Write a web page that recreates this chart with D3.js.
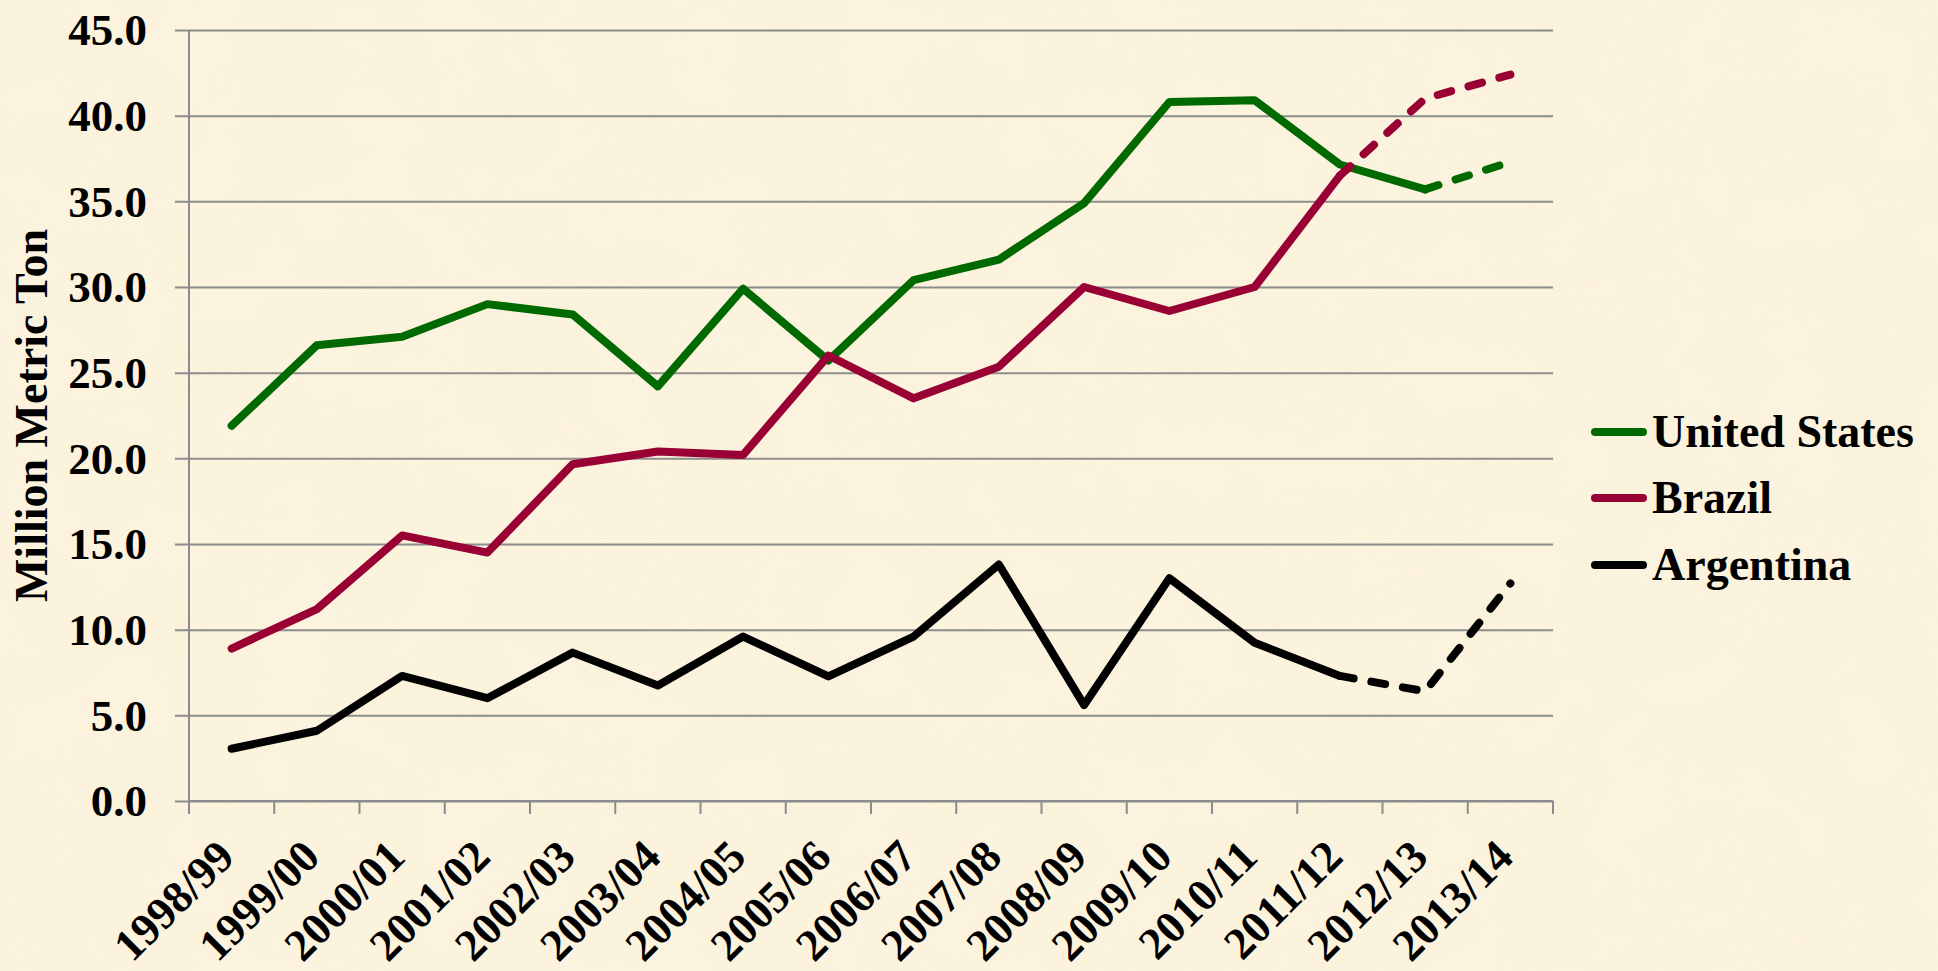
<!DOCTYPE html>
<html>
<head>
<meta charset="utf-8">
<script src="https://cdn.jsdelivr.net/npm/d3@7"></script>
<style>
  html, body { margin: 0; padding: 0; background: #FCF2DC; }
  svg { display: block; }
</style>
</head>
<body>
<script>
const categories = ["1998/99","1999/00","2000/01","2001/02","2002/03","2003/04","2004/05","2005/06","2006/07","2007/08","2008/09","2009/10","2010/11","2011/12","2012/13","2013/14"];
const unitedStates = [21.9, 26.6, 27.1, 29.0, 28.4, 24.2, 29.9, 25.7, 30.4, 31.6, 34.9, 40.8, 40.9, 37.15, 35.7, 37.3];
const brazil       = [8.9, 11.2, 15.5, 14.5, 19.65, 20.4, 20.2, 26.0, 23.5, 25.35, 30.0, 28.6, 30.0, 36.5, 41.0, 42.4];
const argentina    = [3.05, 4.1, 7.3, 6.0, 8.66, 6.74, 9.6, 7.27, 9.6, 13.8, 5.6, 13.0, 9.24, 7.3, 6.4, 12.7];
// index from which each series is drawn dashed (projection)
const dashFrom = { "United States": 14, "Brazil": 13, "Argentina": 13 };
const yTicks = [0, 5, 10, 15, 20, 25, 30, 35, 40, 45];
const seriesNames = ["United States", "Brazil", "Argentina"];
const seriesColors = ["#006900", "#990033", "#000000"];
const yTitle = "Million Metric Ton";

(function () {
const W = 1938, H = 971;
const mLeft = 189, mRight = 1553, mTop = 30, mBottom = 801;

const svg = d3.select("body").append("svg").attr("width", W).attr("height", H);

// parchment background
const defs = svg.append("defs");
const f = defs.append("filter").attr("id", "parch").attr("x", 0).attr("y", 0).attr("width", "100%").attr("height", "100%");
f.append("feTurbulence").attr("type", "fractalNoise").attr("baseFrequency", "0.012").attr("numOctaves", 3).attr("seed", 4).attr("result", "n");
f.append("feColorMatrix").attr("in", "n").attr("type", "matrix")
  .attr("values", "0 0 0 0 0.93  0 0 0 0 0.86  0 0 0 0 0.62  1.2 0 0 0 -0.45");
svg.append("rect").attr("width", W).attr("height", H).attr("fill", "#FCF3DE");
svg.append("rect").attr("width", W).attr("height", H).attr("filter", "url(#parch)").attr("opacity", 0.22);

const x = d3.scaleBand().domain(categories).range([mLeft, mRight]).padding(0);
const y = d3.scaleLinear().domain([0, 45]).range([mBottom, mTop]);

const font = "'Liberation Serif', 'Times New Roman', serif";

// gridlines + y axis
const yAxis = d3.axisLeft(y).tickValues(yTicks).tickSize(mRight - mLeft + 14).tickFormat(d3.format(".1f")).tickPadding(28);
const gy = svg.append("g").attr("transform", `translate(${mRight},0)`).call(yAxis);
gy.select(".domain").remove();
gy.selectAll(".tick line").attr("stroke", "#8c8c8c").attr("stroke-width", 2);
gy.selectAll(".tick text")
  .attr("font-family", font).attr("font-weight", "bold").attr("font-size", 45)
  .attr("fill", "#000").attr("dy", "0.33em");

// vertical axis line
svg.append("line").attr("x1", mLeft).attr("x2", mLeft).attr("y1", mTop).attr("y2", mBottom)
  .attr("stroke", "#8c8c8c").attr("stroke-width", 2);

// x axis with ticks at band boundaries
const boundaries = categories.map(c => x(c)).concat([mRight]);
const gx = svg.append("g");
gx.append("line").attr("x1", mLeft).attr("x2", mRight).attr("y1", mBottom).attr("y2", mBottom)
  .attr("stroke", "#8c8c8c").attr("stroke-width", 2);
gx.selectAll("line.tk").data(boundaries).enter().append("line").attr("class", "tk")
  .attr("x1", d => d).attr("x2", d => d).attr("y1", mBottom).attr("y2", mBottom + 13)
  .attr("stroke", "#8c8c8c").attr("stroke-width", 2);
gx.selectAll("text").data(categories).enter().append("text")
  .attr("transform", d => `translate(${x(d) + x.bandwidth() / 2 + 5},${mBottom + 58}) rotate(-45)`)
  .attr("text-anchor", "end")
  .attr("font-family", font).attr("font-weight", "bold").attr("font-size", 45)
  .attr("fill", "#000").text(d => d);

// y title
svg.append("text")
  .attr("transform", `translate(47,${(mTop + mBottom) / 2}) rotate(-90)`)
  .attr("text-anchor", "middle")
  .attr("font-family", font).attr("font-weight", "bold").attr("font-size", 46)
  .attr("fill", "#000").text(yTitle);

// lines
const allValues = [unitedStates, brazil, argentina];
const cx = c => x(c) + x.bandwidth() / 2;
const line = d3.line().x(d => cx(d.c)).y(d => y(d.v));
seriesNames.forEach((name, i) => {
  const pts = categories.map((c, j) => ({ c, v: allValues[i][j] }));
  const k = dashFrom[name];
  svg.append("path").datum(pts.slice(0, k + 1))
    .attr("d", line).attr("fill", "none").attr("stroke", seriesColors[i])
    .attr("stroke-width", 8).attr("stroke-linejoin", "round").attr("stroke-linecap", "round");
  svg.append("path").datum(pts.slice(k))
    .attr("d", line).attr("fill", "none").attr("stroke", seriesColors[i])
    .attr("stroke-width", 8).attr("stroke-linejoin", "round").attr("stroke-linecap", "round")
    .attr("stroke-dasharray", "14,18");
});

// legend
const legendY = [432, 498, 565];
const lg = svg.append("g");
seriesNames.forEach((name, i) => {
  lg.append("line").attr("x1", 1595).attr("x2", 1643).attr("y1", legendY[i]).attr("y2", legendY[i])
    .attr("stroke", seriesColors[i]).attr("stroke-width", 8).attr("stroke-linecap", "round");
  lg.append("text").attr("x", 1652).attr("y", legendY[i] + 15)
    .attr("font-family", font).attr("font-weight", "bold").attr("font-size", 46)
    .attr("fill", "#000").text(name);
});
})();
</script>
</body>
</html>
